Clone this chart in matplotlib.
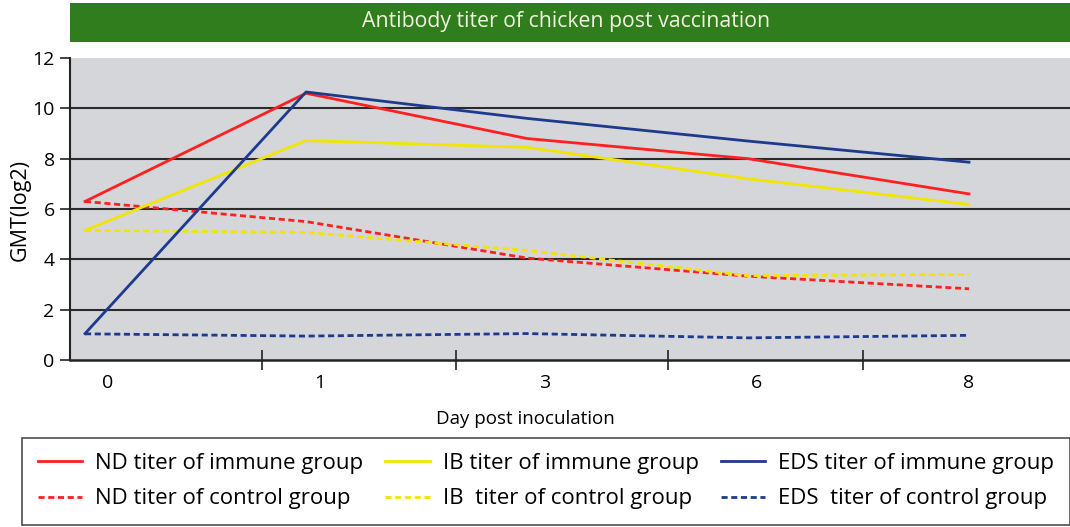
import matplotlib
matplotlib.use("Agg")
import matplotlib.pyplot as plt
from matplotlib.patches import Rectangle

plt.rcParams['font.family'] = ['Open Sans', 'DejaVu Sans']

days = ["0", "1", "3", "6", "8"]
nd_immune = [6.3, 10.6, 8.8, 8.0, 6.6]
nd_control = [6.3, 5.5, 4.05, 3.33, 2.83]
ib_immune = [5.15, 8.72, 8.45, 7.2, 6.18]
ib_control = [5.15, 5.07, 4.35, 3.35, 3.4]
eds_immune = [1.05, 10.65, 9.6, 8.7, 7.86]
eds_control = [1.04, 0.95, 1.05, 0.88, 0.98]

red = "#ff1f1f"
yellow = "#f2e600"
blue = "#1e3a8f"

fig = plt.figure(figsize=(10.7, 5.27), dpi=100)
ax = fig.add_axes([70/1070, 1-360/527, 1-70/1070, (360-58)/527])
ax.set_facecolor("#d4d6da")

x = list(range(len(days)))
dash = (0, (2.2, 1.3))
ax.plot(x, nd_immune, color=red, lw=2.0, label="ND titer of immune group", zorder=3)
ax.plot(x, nd_control, color=red, lw=2.0, ls=dash, label="ND titer of control group", zorder=3)
ax.plot(x, ib_immune, color=yellow, lw=2.0, label="IB titer of immune group", zorder=3)
ax.plot(x, ib_control, color=yellow, lw=2.0, ls=dash, label="IB  titer of control group", zorder=3)
ax.plot(x, eds_immune, color=blue, lw=2.0, label="EDS titer of immune group", zorder=3)
ax.plot(x, eds_control, color=blue, lw=2.0, ls=dash, label="EDS  titer of control group", zorder=3)

ax.set_ylim(0, 12)
ax.set_xlim(-0.068, 4.457)
ax.set_yticks(range(0, 13, 2))
ax.tick_params(axis='y', length=7, width=1.2, labelsize=14, pad=4, color="#222")
for yv in range(2, 12, 2):
    ax.axhline(yv, color="#2b2b2b", lw=1.5, zorder=1)

label_pos = [0.1, 1.06, 2.08, 3.04, 4.0]
ax.set_xticks(label_pos)
ax.set_xticklabels(days)
ax.tick_params(axis='x', length=0, labelsize=14, pad=10)
ax.set_xticks([0.8, 1.68, 2.64, 3.52], minor=True)
ax.tick_params(axis='x', which='minor', length=15, direction='inout', width=1.2, color="#222")

for s in ["top", "right"]:
    ax.spines[s].set_visible(False)
ax.spines["left"].set_linewidth(1.5)
ax.spines["bottom"].set_linewidth(1.8)
ax.spines["left"].set_color("#222")
ax.spines["bottom"].set_color("#222")

ax.set_ylabel("GMT(log2)", fontsize=15.5)
ax.yaxis.set_label_coords(-(70-31)/1000, 0.497)
ax.set_xlabel("Day post inoculation", fontsize=13.5)
ax.xaxis.set_label_coords((525-70)/1000, -(410-360)/302)

# title bar
fig.patches.append(Rectangle((70/1070, 1-42/527), 1-70/1070, 39/527,
                             transform=fig.transFigure, facecolor="#2f7d1c",
                             edgecolor="none"))
fig.text(566/1070, 1-22/527, "Antibody titer of chicken post vaccination",
         color="#f2f2e0", fontsize=15.3, ha="center", va="center")

leg = fig.legend(loc="lower left", bbox_to_anchor=(22/1070, 2/527, 1048/1070, 88/527),
                 mode="expand", ncol=3, fontsize=16, handlelength=2.0,
                 handletextpad=0.6, borderpad=0.7, labelspacing=0.64,
                 borderaxespad=0, columnspacing=0.8,
                 frameon=True, fancybox=False, edgecolor="#222")
leg.get_frame().set_linewidth(1.2)

fig.savefig("out.png", dpi=100)
